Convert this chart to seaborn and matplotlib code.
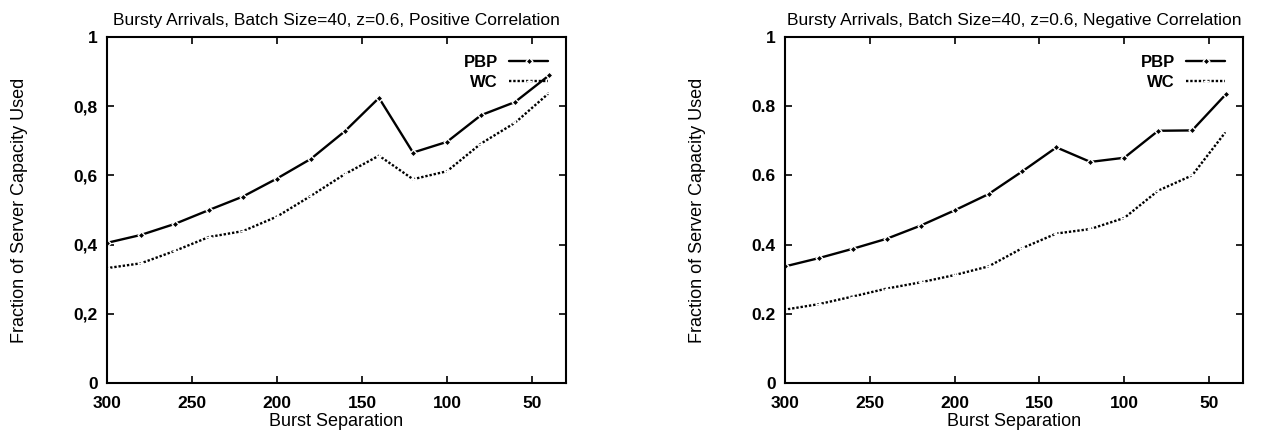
import numpy as np
import pandas as pd
import matplotlib
matplotlib.use('Agg')
import matplotlib.pyplot as plt
import seaborn as sns

sns.set_theme(style='white')
plt.rcParams['font.family'] = ['Liberation Sans', 'DejaVu Sans']
plt.rcParams['text.color'] = 'black'
plt.rcParams['axes.labelcolor'] = 'black'
plt.rcParams['xtick.color'] = 'black'
plt.rcParams['ytick.color'] = 'black'

# ---------------------------------------------------------------------------
# Data
# ---------------------------------------------------------------------------
burst_sep = [300, 280, 260, 240, 220, 200, 180, 160, 140, 120, 100, 80, 60, 40]

pos_pbp = [0.405, 0.428, 0.460, 0.500, 0.539, 0.591, 0.648, 0.728, 0.824,
           0.666, 0.697, 0.774, 0.812, 0.889]
pos_wc = [0.332, 0.346, 0.382, 0.422, 0.439, 0.481, 0.541, 0.604, 0.657,
          0.589, 0.612, 0.692, 0.752, 0.838]

neg_pbp = [0.337, 0.361, 0.388, 0.417, 0.455, 0.499, 0.546, 0.612, 0.681,
           0.639, 0.651, 0.729, 0.730, 0.835]
neg_wc = [0.212, 0.228, 0.250, 0.273, 0.291, 0.312, 0.337, 0.390, 0.432,
          0.445, 0.477, 0.556, 0.600, 0.727]

methods = ['PBP', 'WC']
titles = ['Bursty Arrivals, Batch Size=40, z=0.6, Positive Correlation',
          'Bursty Arrivals, Batch Size=40, z=0.6, Negative Correlation']
y_ticks = [0, 0.2, 0.4, 0.6, 0.8, 1]
y_ticklabels_left = ['0', '0,2', '0,4', '0,6', '0,8', '1']
y_ticklabels_right = ['0', '0.2', '0.4', '0.6', '0.8', '1']
x_ticks = [300, 250, 200, 150, 100, 50]

# line styles per method (gnuplot look: solid w/ dots, dotted w/ plus)
styles = {
    'PBP': dict(marker='D', markersize=3.5, linestyle='-'),
    'WC': dict(marker='+', markersize=4.5, linestyle=(0, (1, 0.8))),
}

panels = [
    ({'PBP': pos_pbp, 'WC': pos_wc}, titles[0], y_ticklabels_left),
    ({'PBP': neg_pbp, 'WC': neg_wc}, titles[1], y_ticklabels_right),
]

fig = plt.figure(figsize=(12.68, 4.30), dpi=100)
W, H = 1268.0, 430.0
axes_px = [(107, 37, 566, 383), (785, 37, 1243, 383)]

for (series, title, ylabels), (x0, y0, x1, y1) in zip(panels, axes_px):
    ax = fig.add_axes([x0 / W, 1 - y1 / H, (x1 - x0) / W, (y1 - y0) / H])
    for m in methods:
        df = pd.DataFrame({'Burst Separation': burst_sep, 'Fraction': series[m]})
        sns.lineplot(data=df, x='Burst Separation', y='Fraction', color='black',
                     linewidth=1.7, markeredgewidth=1.0, ax=ax, label=m,
                     **styles[m])

    ax.set_xlim(300, 30)
    ax.set_ylim(0, 1)
    ax.set_xticks(x_ticks)
    ax.set_xticklabels([str(t) for t in x_ticks], fontsize=12.5, fontweight='bold')
    ax.set_yticks(y_ticks)
    ax.set_yticklabels(ylabels, fontsize=12.5, fontweight='bold')
    ax.tick_params(axis='x', pad=9)
    ax.tick_params(axis='y', pad=6.5)
    ax.tick_params(direction='in', length=5, width=1.2, top=True, right=True,
                   bottom=True, left=True)
    for s in ax.spines.values():
        s.set_linewidth(1.5)
        s.set_color('black')

    ax.set_title(title, fontsize=12.5, pad=9)
    ax.set_xlabel('Burst Separation', fontsize=13, labelpad=2)
    ax.set_ylabel('Fraction of Server Capacity Used', fontsize=13)
    ax.yaxis.set_label_coords(-0.172, 0.5)

    ax.legend(loc='upper right', frameon=False, markerfirst=False,
              handlelength=2.3, handletextpad=0.7, labelspacing=0.3,
              borderaxespad=0.7, prop={'size': 12, 'weight': 'bold'})

fig.savefig('out.png', dpi=100)
